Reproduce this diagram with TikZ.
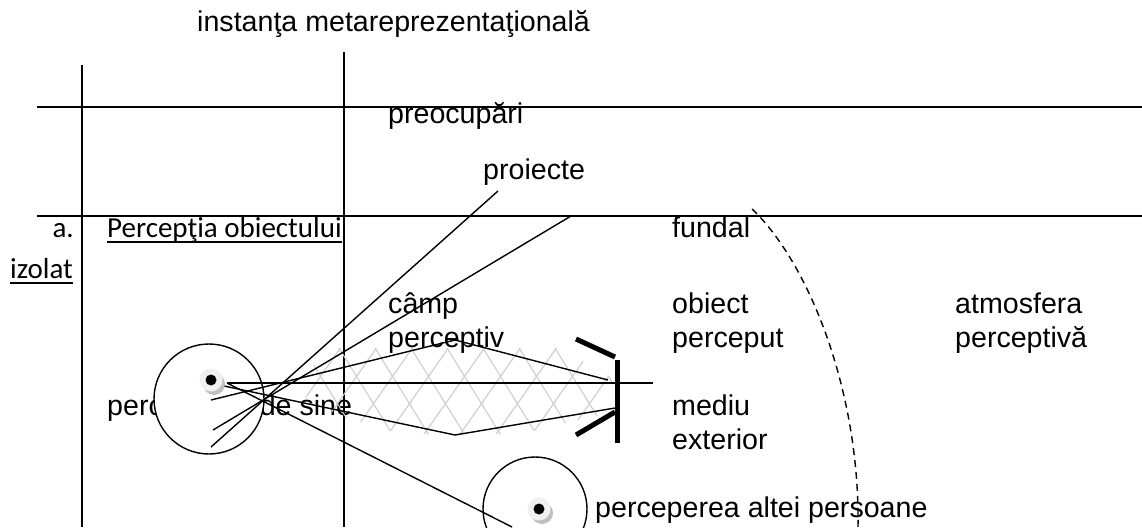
\documentclass[tikz,border=0pt]{standalone}
\usepackage{fontspec}
\setmainfont{Liberation Sans}
\newfontfamily\calibrifont{Carlito}
\begin{document}
\begin{tikzpicture}[x=1pt,y=-1pt,
    lbl/.style={anchor=base west, inner sep=0pt, align=left, font=\fontsize{28.6}{34}\selectfont},
    cal/.style={inner sep=0pt, font=\calibrifont\fontsize{29}{34}\selectfont},
    ln/.style={line width=1.4pt},
    bar/.style={line width=5pt},
    hatch/.style={gray!40, line width=1.1pt}]
    \useasboundingbox (0,0) rectangle (1142,527);
    % Grid
    \draw[ln] (37,107) -- (1142,107);
    \draw[ln] (37,216) -- (1142,216);
    \draw[ln] (82,65) -- (82,527);
    \draw[ln] (344,52) -- (344,527);
    % Labels (two-line ones sit on the second baseline)
    \node[lbl] (meta) at (197,32) {instanţa metareprezentaţională};
    \node[lbl] (preoc) at (388,123) {preocupări};
    \node[lbl] (proj) at (483,179) {proiecte};
    \node[lbl] (fundal) at (672,237) {fundal};
    \node[lbl] (camp) at (388,347) {câmp\\perceptiv};
    \node[lbl] (obiect) at (672,347) {obiect\\perceput};
    \node[lbl] (atmos) at (955,347) {atmosfera\\perceptivă};
    \node[lbl] (mediu) at (672,449) {mediu\\exterior};
    \node[lbl] (altei) at (595,517) {perceperea altei persoane};
    \node[lbl] (sine) at (107,415) {perceperea de sine};
    \node[cal, anchor=base east] (pa) at (74,237) {a.};
    \node[cal, anchor=base west] (pobj) at (107,237) {Percepţia obiectului};
    \node[cal, anchor=base west] (izol) at (10,278) {izolat};
    \draw[line width=1.5pt] ([yshift=-5]pobj.base west) -- ([yshift=-5]pobj.base east);
    \draw[line width=1.5pt] ([yshift=-5]izol.base west) -- ([yshift=-5]izol.base east);
    % Head circles
    \draw[ln, fill=white] (209,399) circle (55);
    \draw[ln] (535,509) circle (52);
    \coordinate (eyeA) at (211,380);
    \coordinate (eyeB) at (539,509);
    % Hatched field
    \begin{scope}
        \clip (296,392) -- (325,348) -- (560,348) -- (612,378) -- (612,412) -- (520,434) -- (400,434) -- (335,414) -- cycle;
        \foreach \x in {190,226,...,650} {
            \draw[hatch] (\x,340) -- ++(62,100);
            \draw[hatch] (\x+14,440) -- ++(70,-100);
        }
    \end{scope}
    % Rays
    \coordinate (projA) at (498,191);
    \coordinate (projB) at (571,216);
    \coordinate (top) at (455,340);
    \coordinate (bot) at (455,435);
    \coordinate (objU) at (608,380);
    \coordinate (objL) at (615,408);
    \coordinate (axis) at (653,383);
    \draw[ln] (211,447) -- (projA);
    \draw[ln] (213,430) -- (projB);
    \draw[ln] (211,400) -- (top) -- (objU);
    \draw[ln] (224,386) -- (bot) -- (objL);
    \draw[ln] (227,383) -- (axis);
    \draw[ln] (227,383) -- (512,527);
    % Object bracket
    \draw[bar] (617,360) -- (617,443);
    \draw[bar] (576,339) -- (615,357);
    \draw[bar] (576,435) -- (615,412);
    % Horizon
    \draw[ln, dash pattern=on 7pt off 5pt] (752,209) .. controls (808,262) and (860,390) .. (858,527);
    % Eyes
    \foreach \e in {eyeA,eyeB} {
        \fill[gray!50] ([shift={(3,4)}]\e) circle (11);
        \fill[gray!12] (\e) circle (11.5);
        \fill (\e) circle (5.5);
    }
\end{tikzpicture}
\end{document}
